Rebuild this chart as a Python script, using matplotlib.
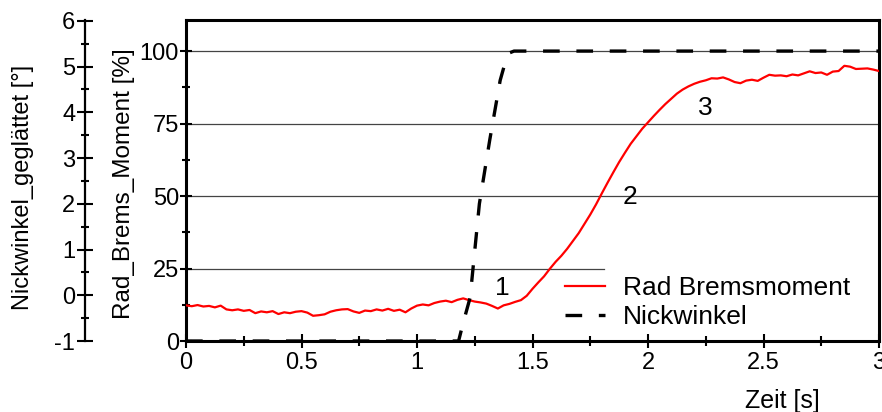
import numpy as np
import matplotlib
matplotlib.use('Agg')
import matplotlib.pyplot as plt
from matplotlib.ticker import MultipleLocator

plt.rcParams['font.family'] = ['Liberation Sans', 'DejaVu Sans']
plt.rcParams['axes.unicode_minus'] = False

# brake torque, sampled every 25 ms from 0 to 3 s
t_brems = np.arange(121) * 0.025
rad_brems = [
    12.3, 12.0, 12.4, 11.9, 12.1, 11.6, 12.2, 10.9, 10.6, 10.9,
    10.4, 10.7, 9.6, 10.2, 9.9, 10.3, 9.3, 9.9, 9.6, 10.1,
    10.3, 9.8, 8.7, 8.9, 9.2, 10.1, 10.6, 10.9, 11.0, 10.2,
    9.7, 10.5, 10.3, 10.9, 10.5, 11.1, 10.4, 10.8, 9.9, 11.2,
    12.2, 12.6, 12.3, 13.1, 13.6, 13.9, 13.4, 14.2, 14.7, 14.1,
    13.6, 13.3, 12.9, 12.1, 11.2, 12.3, 12.8, 13.5, 14.1, 15.6,
    18.0, 20.2, 22.3, 24.9, 27.3, 29.4, 31.8, 34.5, 37.2, 40.4,
    43.6, 47.1, 50.9, 54.6, 58.2, 61.7, 64.9, 68.0, 70.6, 73.2,
    75.4, 77.6, 79.7, 81.7, 83.5, 85.3, 86.7, 87.8, 88.7, 89.4,
    89.9, 90.6, 90.5, 90.9, 90.2, 89.3, 88.9, 89.8, 90.1, 89.7,
    90.8, 91.8, 91.5, 91.6, 91.3, 91.9, 91.6, 92.3, 93.0, 92.4,
    92.6, 91.8, 92.9, 93.1, 94.9, 94.6, 93.8, 93.9, 94.0, 93.6,
    93.1,
]

# smoothed pitch angle
t_nick = [0.0, 1.18, 1.20, 1.23, 1.27, 1.315, 1.36, 1.385, 1.40, 1.42, 3.0]
nickwinkel = [-1.0, -1.0, -0.6, -0.05, 2.0, 3.4, 4.7, 5.15, 5.3, 5.34, 5.34]

phase_labels = ['1', '2', '3']
phase_t = [1.37, 1.92, 2.25]
phase_val = [18.3, 49.6, 80.3]

fig = plt.figure(figsize=(8.82, 4.12), dpi=100)
ax = fig.add_axes([0.2109, 0.1723, 0.7857, 0.7792])

for y in [50, 75, 100]:
    ax.axhline(y, color='#444444', lw=0.9, zorder=1)
ax.axhline(25, xmax=0.603, color='#444444', lw=0.9, zorder=1)

l_rad, = ax.plot(t_brems, rad_brems, color='red', lw=1.6, label='Rad Bremsmoment', zorder=3)

ax.set_xlim(0, 3)
ax.set_ylim(0, 110.7)
ax.xaxis.set_major_locator(MultipleLocator(0.5))
ax.xaxis.set_minor_locator(MultipleLocator(0.25))
ax.yaxis.set_minor_locator(MultipleLocator(12.5))
ax.set_yticks([0, 25, 50, 75, 100])
ax.xaxis.set_major_formatter(plt.FuncFormatter(lambda v, p: f'{v:g}'))
ax.tick_params(axis='x', which='major', direction='inout', length=10, width=1.5, labelsize=17, pad=3)
ax.tick_params(axis='x', which='minor', direction='inout', length=7, width=1.5)
ax.tick_params(axis='y', which='major', direction='inout', length=8, width=1.5, labelsize=17, pad=1)
ax.tick_params(axis='y', which='minor', direction='inout', length=6, width=1.5)
for s in ax.spines.values():
    s.set_linewidth(2.2)

ax.set_xlabel('Zeit [s]', fontsize=18)
ax.xaxis.set_label_coords(0.86, -0.15)
ax.set_ylabel('Rad_Brems_Moment [%]', fontsize=17.5)
ax.yaxis.set_label_coords(-0.073, 0.49)

# second y axis for the pitch angle, moved out to the left
ax2 = ax.twinx()
ax2.set_ylim(-1, 6.02)
ax2.spines['left'].set_position(('axes', -0.1457))
ax2.spines['left'].set_visible(True)
ax2.spines['left'].set_linewidth(1.6)
for k in ['right', 'top', 'bottom']:
    ax2.spines[k].set_visible(False)
ax2.yaxis.set_ticks_position('left')
ax2.yaxis.set_label_position('left')
ax2.yaxis.set_major_locator(MultipleLocator(1))
ax2.yaxis.set_minor_locator(MultipleLocator(0.5))
ax2.tick_params(axis='y', which='major', direction='inout', length=12, width=1.5, labelsize=17, pad=1)
ax2.tick_params(axis='y', which='minor', direction='inout', length=6, width=1.5)
ax2.set_ylabel('Nickwinkel_geglättet [°]', fontsize=17)
ax2.yaxis.set_label_coords(-0.219, 0.477)

l_nick, = ax2.plot(t_nick, nickwinkel, color='black', lw=2.4, dashes=(5, 5),
                   label='Nickwinkel', zorder=2)

for lab, tx, ty in zip(phase_labels, phase_t, phase_val):
    ax.text(tx, ty, lab, fontsize=19, ha='center', va='center', zorder=4)

ax2.legend([l_rad, l_nick], ['Rad Bremsmoment', 'Nickwinkel'], loc='upper left',
           bbox_to_anchor=(0.547, 0.203), frameon=False, fontsize=19,
           borderpad=0, borderaxespad=0, handlelength=1.5, handletextpad=0.7,
           labelspacing=0.2)

fig.savefig('out.png', dpi=100)
